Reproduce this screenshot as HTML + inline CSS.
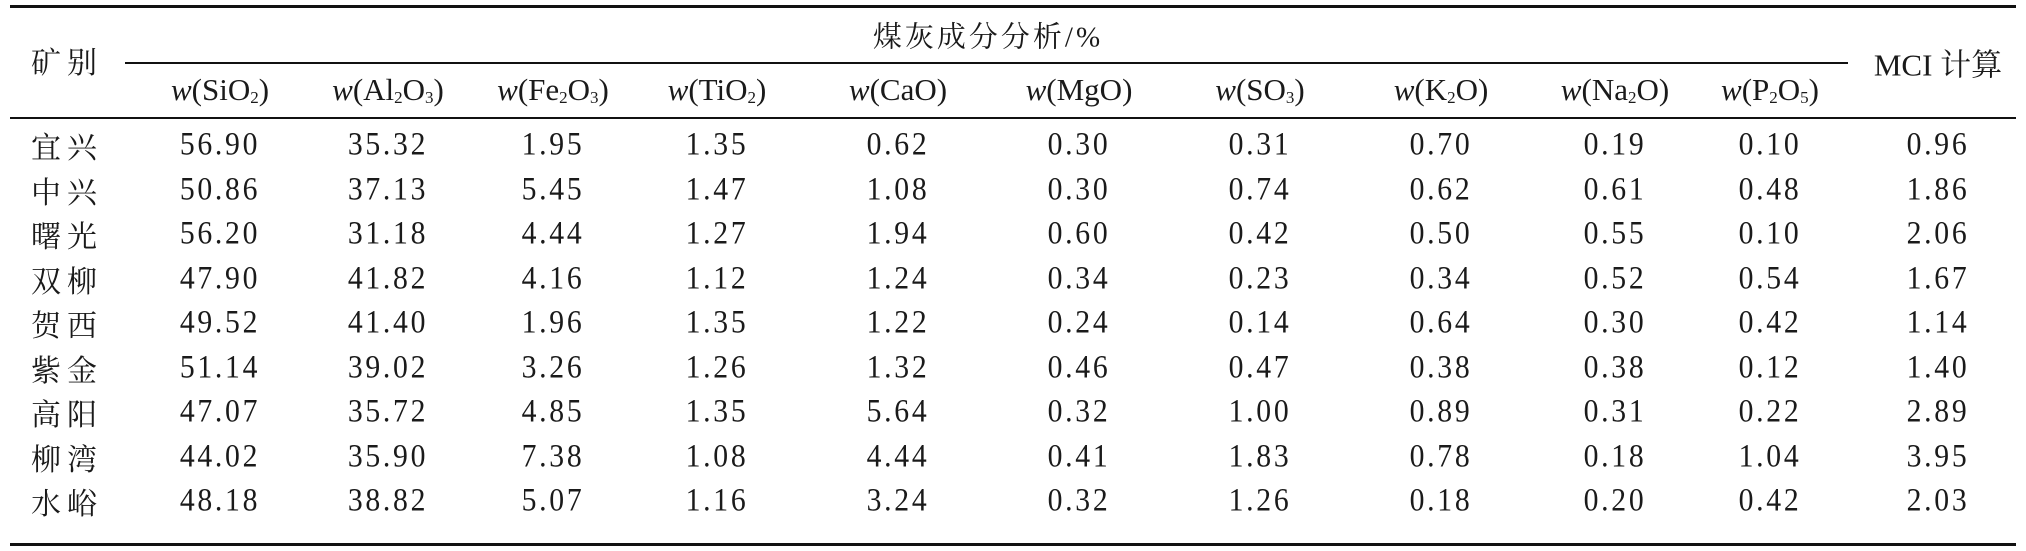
<!DOCTYPE html>
<html><head><meta charset="utf-8">
<style>
html,body{margin:0;padding:0;background:#fff;}
#wrap{position:relative;width:2026px;height:551px;overflow:hidden;font-family:"Liberation Serif","Noto Serif CJK SC",serif;color:#1a1a1a;}
.rule{position:absolute;background:#111;}
.t{position:absolute;white-space:nowrap;transform:translate(-50%,-50%);}
.hd{font-size:31px;}
.num{font-size:33px;letter-spacing:3px;transform:translate(-50%,-50%) scaleX(0.9);}
.cn{font-size:30px;letter-spacing:6px;font-family:"Liberation Serif","Noto Serif CJK SC",serif;}
sub{font-size:17px;vertical-align:-3px;}
i{font-style:italic;}
</style></head>
<body>
<div id="wrap">
<div class="rule" style="left:10px;top:5px;width:2006px;height:3px"></div>
<div class="rule" style="left:125px;top:62px;width:1723px;height:1.5px"></div>
<div class="rule" style="left:10px;top:117px;width:2006px;height:1.5px"></div>
<div class="rule" style="left:10px;top:543px;width:2006px;height:3px"></div>
<div class="t cn" style="left:67px;top:60px">矿别</div>
<div class="t cn" style="left:988px;top:35px;font-size:29px;letter-spacing:3px">煤灰成分分析/%</div>
<div class="t hd" style="left:1938px;top:62px;font-size:31px">MCI 计算</div>
</div>
<script>
const colX=[220,388,553,717,898,1079,1260,1441,1615,1770,1938];
const headers=['<i>w</i>(SiO<sub>2</sub>)','<i>w</i>(Al<sub>2</sub>O<sub>3</sub>)','<i>w</i>(Fe<sub>2</sub>O<sub>3</sub>)','<i>w</i>(TiO<sub>2</sub>)','<i>w</i>(CaO)','<i>w</i>(MgO)','<i>w</i>(SO<sub>3</sub>)','<i>w</i>(K<sub>2</sub>O)','<i>w</i>(Na<sub>2</sub>O)','<i>w</i>(P<sub>2</sub>O<sub>5</sub>)'];
const mines=['宜兴','中兴','曙光','双柳','贺西','紫金','高阳','柳湾','水峪'];
const values=[
['56.90','35.32','1.95','1.35','0.62','0.30','0.31','0.70','0.19','0.10','0.96'],
['50.86','37.13','5.45','1.47','1.08','0.30','0.74','0.62','0.61','0.48','1.86'],
['56.20','31.18','4.44','1.27','1.94','0.60','0.42','0.50','0.55','0.10','2.06'],
['47.90','41.82','4.16','1.12','1.24','0.34','0.23','0.34','0.52','0.54','1.67'],
['49.52','41.40','1.96','1.35','1.22','0.24','0.14','0.64','0.30','0.42','1.14'],
['51.14','39.02','3.26','1.26','1.32','0.46','0.47','0.38','0.38','0.12','1.40'],
['47.07','35.72','4.85','1.35','5.64','0.32','1.00','0.89','0.31','0.22','2.89'],
['44.02','35.90','7.38','1.08','4.44','0.41','1.83','0.78','0.18','1.04','3.95'],
['48.18','38.82','5.07','1.16','3.24','0.32','1.26','0.18','0.20','0.42','2.03']
];
const wrap=document.getElementById('wrap');
headers.forEach((h,i)=>{
  const d=document.createElement('div');
  d.className='t hd';d.style.left=colX[i]+'px';d.style.top='90px';d.innerHTML=h;
  
  
  wrap.appendChild(d);
});
mines.forEach((m,r)=>{
  const y=145+r*44.5;
  const c=document.createElement('div');
  c.className='t cn';c.style.left='67px';c.style.top=y+'px';c.textContent=m;
  
  
  wrap.appendChild(c);
  values[r].forEach((v,i)=>{
    const d=document.createElement('div');
    d.className='t num';d.style.left=colX[i]+'px';d.style.top=y+'px';d.textContent=v;
    
    
    wrap.appendChild(d);
  });
});
</script>
</body></html>
